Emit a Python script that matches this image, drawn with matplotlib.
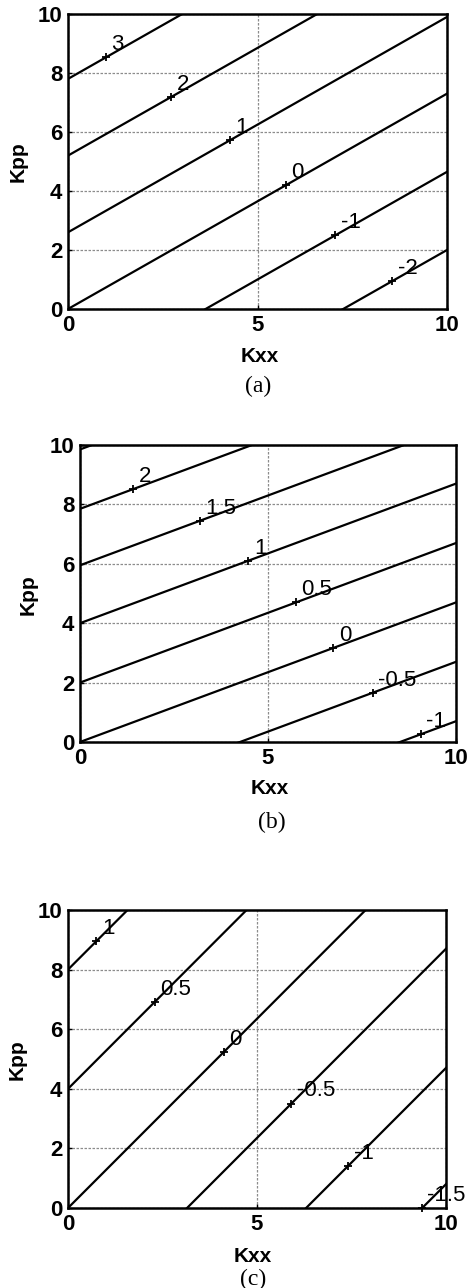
import numpy as np
import matplotlib
matplotlib.use('Agg')
import matplotlib.pyplot as plt

# Panel (a): contour levels, line slope, Kpp intercept of each line, Kxx of label mark
levels_a = [3, 2, 1, 0, -1, -2]
slope_a = 0.73
intercepts_a = [7.8, 5.2, 2.6, 0.0, -2.65, -5.3]
label_x_a = [1.0, 2.73, 4.27, 5.75, 7.05, 8.55]

# Panel (b)
levels_b = [2.5, 2, 1.5, 1, 0.5, 0, -0.5, -1]
slope_b = 0.47
intercepts_b = [9.85, 7.85, 5.95, 4.0, 2.0, 0.0, -2.0, -4.0]
label_x_b = [None, 1.42, 3.19, 4.48, 5.74, 6.74, 7.78, 9.06]

# Panel (c)
levels_c = [1, 0.5, 0, -0.5, -1, -1.5]
slope_c = 1.27
intercepts_c = [8.0, 4.0, 0.0, -4.0, -8.0, -11.9]
label_x_c = [0.75, 2.29, 4.12, 5.91, 7.41, 9.36]

xticks = [0, 5, 10]
yticks = [0, 2, 4, 6, 8, 10]

panels = [
    ('(a)', levels_a, slope_a, intercepts_a, label_x_a,
     [68, 447, 14, 309], (18, 162), (260, 357), (258, 386)),
    ('(b)', levels_b, slope_b, intercepts_b, label_x_b,
     [80, 456, 445, 742], (28, 595), (270, 788), (272, 822)),
    ('(c)', levels_c, slope_c, intercepts_c, label_x_c,
     [68, 446, 910, 1208], (17, 1060), (253, 1257), (253, 1279)),
]

W, H = 471, 1288
fig = plt.figure(figsize=(W / 100, H / 100), dpi=100)

for cap, levels, slope, intercepts, label_x, box, kpp_pos, kxx_pos, cap_pos in panels:
    l, r, t, b = box
    ax = fig.add_axes([l / W, 1 - b / H, (r - l) / W, (b - t) / H])
    ax.set_xlim(0, 10)
    ax.set_ylim(0, 10)
    ax.set_xticks(xticks)
    ax.set_yticks(yticks)
    ax.grid(True, color='0.55', linestyle=(0, (2, 1.2)), linewidth=0.9)
    ax.tick_params(direction='in', length=3, width=1, pad=4)
    for lab in ax.get_xticklabels() + ax.get_yticklabels():
        lab.set_fontsize(16)
        lab.set_fontweight('bold')
        lab.set_family('Liberation Sans')
    for sp in ax.spines.values():
        sp.set_linewidth(1.8)

    xs = np.array([-1.0, 11.0])
    for lev, c, lx in zip(levels, intercepts, label_x):
        ax.plot(xs, slope * xs + c, color='black', linewidth=1.6)
        if lx is None:
            continue
        ly = slope * lx + c
        ax.plot([lx], [ly], marker='+', color='black', markersize=6,
                markeredgewidth=1.3, clip_on=False)
        txt = f'{lev:g}'
        ax.annotate(txt, xy=(lx, ly), xytext=(4, 1.5), textcoords='offset points',
                    ha='left', va='bottom', fontsize=16, family='Liberation Sans',
                    annotation_clip=False)

    fig.text(kpp_pos[0] / W, 1 - kpp_pos[1] / H, 'Kpp', rotation=90, ha='center',
             va='center', fontsize=15, fontweight='bold', family='Liberation Sans')
    fig.text(kxx_pos[0] / W, 1 - kxx_pos[1] / H, 'Kxx', ha='center', va='center',
             fontsize=15, fontweight='bold', family='Liberation Sans')
    fig.text(cap_pos[0] / W, 1 - cap_pos[1] / H, cap, ha='center', va='center',
             fontsize=17, family='Liberation Serif')

fig.savefig('out.png', dpi=100)
